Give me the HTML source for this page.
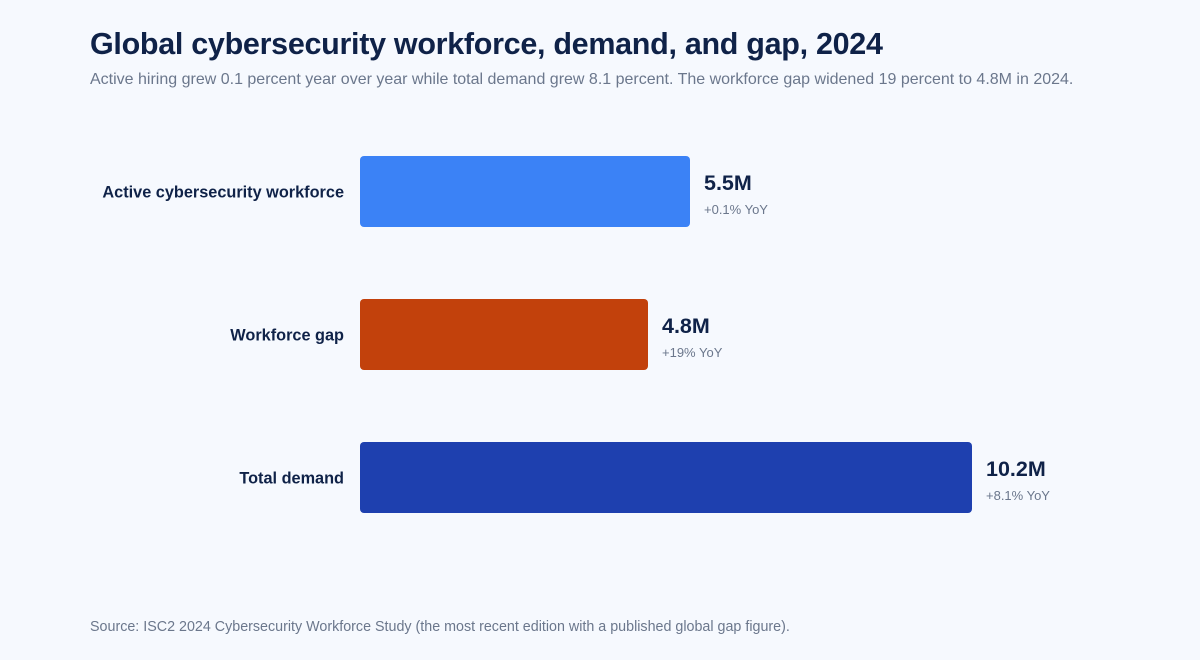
<!DOCTYPE html>
<html><head><meta charset="utf-8"><style>
body{margin:0;background:#f6f9fe;font-family:"Liberation Sans",Arial,sans-serif;}
#wrap{position:relative;width:1200px;height:660px;overflow:hidden;background:#f6f9fe;}
h1{position:absolute;left:90px;top:27px;margin:0;font-size:30.5px;font-weight:bold;color:#0f2248;letter-spacing:-0.3px;white-space:nowrap;}
.sub{position:absolute;left:90px;top:71px;font-size:16px;color:#6b778c;white-space:nowrap;}
.src{position:absolute;left:90px;top:619px;font-size:14.3px;color:#6b778c;white-space:nowrap;}
</style></head><body>
<div id="wrap">
<h1>Global cybersecurity workforce, demand, and gap, 2024</h1>
<div class="sub">Active hiring grew 0.1 percent year over year while total demand grew 8.1 percent. The workforce gap widened 19 percent to 4.8M in 2024.</div>
<svg id="chart" width="1200" height="660" style="position:absolute;left:0;top:0"></svg>
<div class="src">Source: ISC2 2024 Cybersecurity Workforce Study (the most recent edition with a published global gap figure).</div>
</div>
<script>
const categories=["Active cybersecurity workforce","Workforce gap","Total demand"];
const values=[5.5,4.8,10.2];
const valueLabels=["5.5M","4.8M","10.2M"];
const yoyLabels=["+0.1% YoY","+19% YoY","+8.1% YoY"];
const colors=["#3b82f6","#c2410c","#1e40af"];
const svg=document.getElementById('chart');
const NS="http://www.w3.org/2000/svg";
const x0=360,pxPerUnit=60;
function xs(v){return x0+v*pxPerUnit;}
function ys(i){return 156+i*143;}
const bh=71;
categories.forEach((c,i)=>{
  const y=ys(i);
  const r=document.createElementNS(NS,'rect');
  
  
  r.setAttribute('x',x0);r.setAttribute('y',y);
  r.setAttribute('width',xs(values[i])-x0);r.setAttribute('height',bh);
  r.setAttribute('rx',4);r.setAttribute('fill',colors[i]);
  svg.appendChild(r);
  const t=document.createElementNS(NS,'text');
  
  
  t.setAttribute('x',344);t.setAttribute('y',y+bh/2+6);
  t.setAttribute('text-anchor','end');t.setAttribute('font-size','16.3');t.setAttribute('font-weight','bold');t.setAttribute('fill','#0f2248');
  t.textContent=c;svg.appendChild(t);
  const v=document.createElementNS(NS,'text');
  
  
  v.setAttribute('x',xs(values[i])+14);v.setAttribute('y',y+34);
  v.setAttribute('font-size','21.5');v.setAttribute('font-weight','bold');v.setAttribute('fill','#0f2248');
  v.textContent=valueLabels[i];svg.appendChild(v);
  const w=document.createElementNS(NS,'text');
  
  
  w.setAttribute('x',xs(values[i])+14);w.setAttribute('y',y+58);
  w.setAttribute('font-size','13');w.setAttribute('fill','#6b778c');
  w.textContent=yoyLabels[i];svg.appendChild(w);
});
</script>
</body></html>
